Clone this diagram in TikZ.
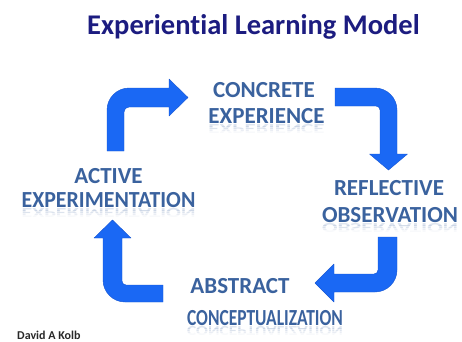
\documentclass[tikz,border=0pt]{standalone}
\usepackage{fontspec}
\setmainfont{Carlito}[Ligatures={TeX,NoCommon}]
\definecolor{arrowblue}{RGB}{26,104,244}
\definecolor{arrowedge}{RGB}{22,86,210}
\definecolor{lblc}{RGB}{58,98,158}
\definecolor{titlec}{RGB}{28,28,128}
\definecolor{kolbc}{RGB}{40,40,40}
\tikzset{
  blockarrow/.style={fill=arrowblue, draw=arrowedge, line width=0.4pt, line join=round},
  lbl/.style={font=\bfseries\fontsize{23}{27}\selectfont, text=lblc, inner sep=0pt, anchor=base},
}
\newcommand\mirrortext[4]{%
  \foreach \k/\op in {0/0.16,1/0.11,2/0.07,3/0.035}{%
    \begin{scope}
      \clip (#2-130, #3+1.5+2*\k) rectangle (#2+130, #3+3.5+2*\k);
      \node[lbl, yscale=-0.6, opacity=\op] (#1\k) at (#2, #3+1.5) {#4};
    \end{scope}}}
\begin{document}
\begin{tikzpicture}[x=1pt,y=-1pt]
\useasboundingbox (0,0) rectangle (462,341);
\fill[white] (0,0) rectangle (462,341);

% title
\node[font=\bfseries\fontsize{28.5}{32}\selectfont, text=titlec, inner sep=0pt, anchor=base] (title) at (253.5,34) {Experiential Learning Model};

% block arrows
\path[blockarrow] (107,151) -- (107,110) .. controls (107,97.9) and (116.9,88) .. (129,88) -- (169,88) -- (169,79) -- (188,97.5) -- (169,116) -- (169,107) -- (129,107) .. controls (126.2,107) and (124,109.2) .. (124,112) -- (124,151) -- cycle;
\path[blockarrow] (335,88) -- (375,88) .. controls (387.1,88) and (397,97.9) .. (397,110) -- (397,154) -- (407.5,154) -- (388.5,170) -- (369.5,154) -- (380,154) -- (380,110) .. controls (380,107.8) and (378.2,106) .. (376,106) -- (335,106) -- cycle;
\path[blockarrow] (378,237) -- (397,237) -- (397,270) .. controls (397,282.1) and (387.1,292) .. (375,292) -- (334,292) -- (334,302) -- (315,283) -- (334,264) -- (334,274) -- (374,274) .. controls (376.2,274) and (378,272.2) .. (378,270) -- cycle;
\path[blockarrow] (163,285) -- (163,302) -- (125,302) .. controls (112.9,302) and (103,292.1) .. (103,280) -- (103,238) -- (94,238) -- (112.5,220) -- (131,238) -- (122,238) -- (122,281) .. controls (122,283.2) and (123.8,285) .. (126,285) -- cycle;

% labels
\node[lbl] (ce1) at (264,97) {CONCRETE};
\node[lbl] (ce2) at (266.5,123) {EXPERIENCE};
\mirrortext{cer}{266.5}{123}{EXPERIENCE}

\node[lbl] (ro1) at (389,195) {REFLECTIVE};
\node[lbl] (ro2) at (390,222) {OBSERVATION};
\mirrortext{ror}{390}{222}{OBSERVATION}

\node[lbl] (ae1) at (108.5,183) {ACTIVE};
\node[lbl] (ae2) at (108.5,207) {\scalebox{0.95}[1]{EXPERIMENTATION}};
\mirrortext{aer}{108.5}{207}{\scalebox{0.95}[1]{EXPERIMENTATION}}

\node[lbl] (ac1) at (240,293) {ABSTRACT};
\node[lbl] (ac2) at (265,325) {\scalebox{0.76}[1]{CONCEPTUALIZATION}};
\mirrortext{acr}{265}{325}{\scalebox{0.76}[1]{CONCEPTUALIZATION}}

% author
\node[font=\bfseries\fontsize{12}{14}\selectfont, text=kolbc, inner sep=0pt, anchor=base west] (kolb) at (17,339) {David A Kolb};
\end{tikzpicture}
\end{document}
